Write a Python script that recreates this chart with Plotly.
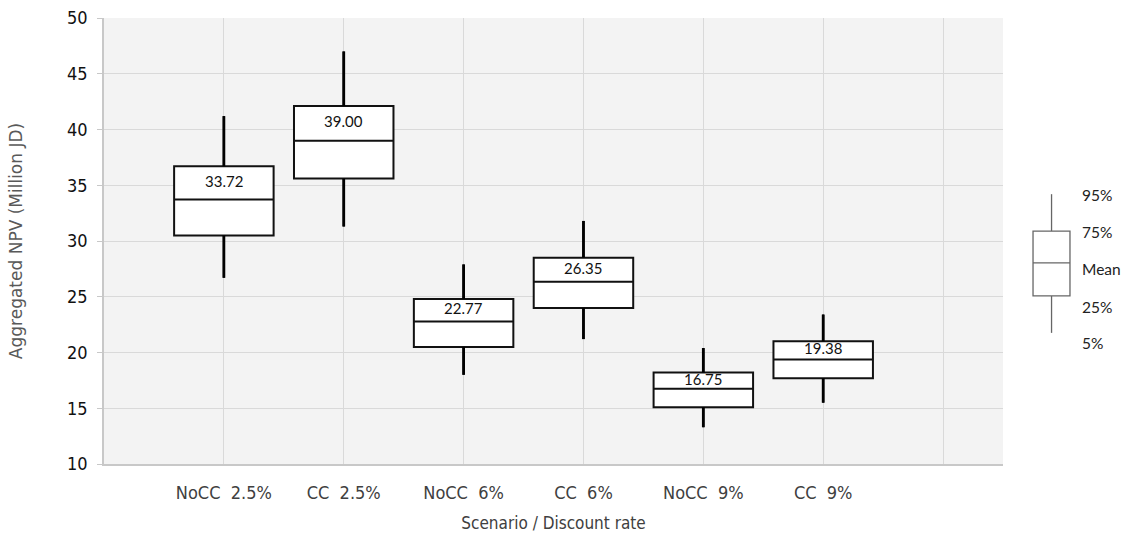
import plotly.graph_objects as go

# Scenario / discount-rate combinations
scenarios = ["NoCC  2.5%", "CC  2.5%", "NoCC  6%", "CC  6%", "NoCC  9%", "CC  9%"]

# Aggregated NPV distribution (Million JD)
p5 = [26.7, 31.3, 18.0, 21.2, 13.3, 15.5]
p25 = [30.5, 35.6, 20.5, 24.0, 15.1, 17.7]
mean = [33.72, 39.00, 22.77, 26.35, 16.75, 19.38]
p75 = [36.7, 42.1, 24.8, 28.5, 18.2, 21.0]
p95 = [41.2, 47.0, 27.9, 31.8, 20.4, 23.4]

positions = list(range(1, len(scenarios) + 1))

fig = go.Figure()
fig.add_trace(go.Box(
    x=positions,
    q1=p25,
    median=mean,
    q3=p75,
    lowerfence=p5,
    upperfence=p95,
    width=0.83,
    whiskerwidth=0,
    fillcolor="white",
    line=dict(color="#111111", width=2),
    hoverinfo="skip",
    showlegend=False,
))

# Heavier whisker strokes (5%-25% and 75%-95%)
wx, wy = [], []
for xi, lo, q1, q3, hi in zip(positions, p5, p25, p75, p95):
    wx += [xi, xi, None, xi, xi, None]
    wy += [lo, q1, None, q3, hi, None]
fig.add_trace(go.Scatter(
    x=wx, y=wy, mode="lines",
    line=dict(color="#000000", width=2.8),
    hoverinfo="skip", showlegend=False,
))

# Mean value labels inside each box
for xi, m, q in zip(positions, mean, p75):
    fig.add_annotation(
        x=xi, y=(q + m) / 2, text=f"{m:.2f}", showarrow=False,
        font=dict(family="Lato", size=15, color="#111111"),
        xanchor="center", yanchor="middle", yshift=2,
    )

# Key glyph explaining the box elements
key_line = dict(color="#666666", width=1.3)
kx0, kx1, kxm = 1.0334, 1.0745, 1.054
ky = dict(p95=0.605, p75=0.522, mean=0.451, p25=0.377, p5=0.294)
fig.add_shape(type="line", xref="paper", yref="paper", x0=kxm, x1=kxm,
              y0=ky["p75"], y1=ky["p95"], line=key_line)
fig.add_shape(type="line", xref="paper", yref="paper", x0=kxm, x1=kxm,
              y0=ky["p5"], y1=ky["p25"], line=key_line)
fig.add_shape(type="rect", xref="paper", yref="paper", x0=kx0, x1=kx1,
              y0=ky["p25"], y1=ky["p75"], line=key_line, fillcolor="white")
fig.add_shape(type="line", xref="paper", yref="paper", x0=kx0, x1=kx1,
              y0=ky["mean"], y1=ky["mean"], line=key_line)

key_labels = [("95%", 0.603), ("75%", 0.520), ("Mean", 0.437), ("25%", 0.352), ("5%", 0.272)]
for txt, yy in key_labels:
    fig.add_annotation(
        xref="paper", yref="paper", x=1.0855, y=yy, text=txt, showarrow=False,
        xanchor="left", yanchor="middle",
        font=dict(family="Lato", size=15.5, color="#222222"),
    )

fig.update_layout(
    width=1126, height=538,
    margin=dict(l=104, r=123, t=18, b=74, autoexpand=False),
    paper_bgcolor="white",
    plot_bgcolor="#f3f3f3",
    font=dict(family="DejaVu Sans"),
)
fig.update_xaxes(
    range=[0, 7.5],
    tickvals=positions + [7],
    ticktext=scenarios + [""],
    automargin=False,
    showgrid=True, gridcolor="#d9d9d9", gridwidth=1,
    showline=True, linecolor="#c8c8c8", linewidth=1.5,
    zeroline=False, ticks="",
    ticklabelstandoff=12,
    tickfont=dict(family="DejaVu Sans Condensed", size=18, color="#404040"),
    title=dict(text="Scenario / Discount rate", standoff=15,
               font=dict(family="DejaVu Sans Condensed", size=17, color="#404040")),
)
fig.update_yaxes(
    range=[10, 50], dtick=5,
    automargin=False,
    showgrid=True, gridcolor="#d9d9d9", gridwidth=1,
    showline=True, linecolor="#c8c8c8", linewidth=1.5,
    zeroline=False, ticks="outside", ticklen=5, tickcolor="#c8c8c8",
    ticklabelstandoff=6,
    tickfont=dict(family="DejaVu Sans Condensed", size=18, color="#111111"),
    title=dict(text="Aggregated NPV (Million JD)", standoff=40,
               font=dict(family="DejaVu Sans", size=17, color="#595959")),
)

fig.write_html("out.html")
